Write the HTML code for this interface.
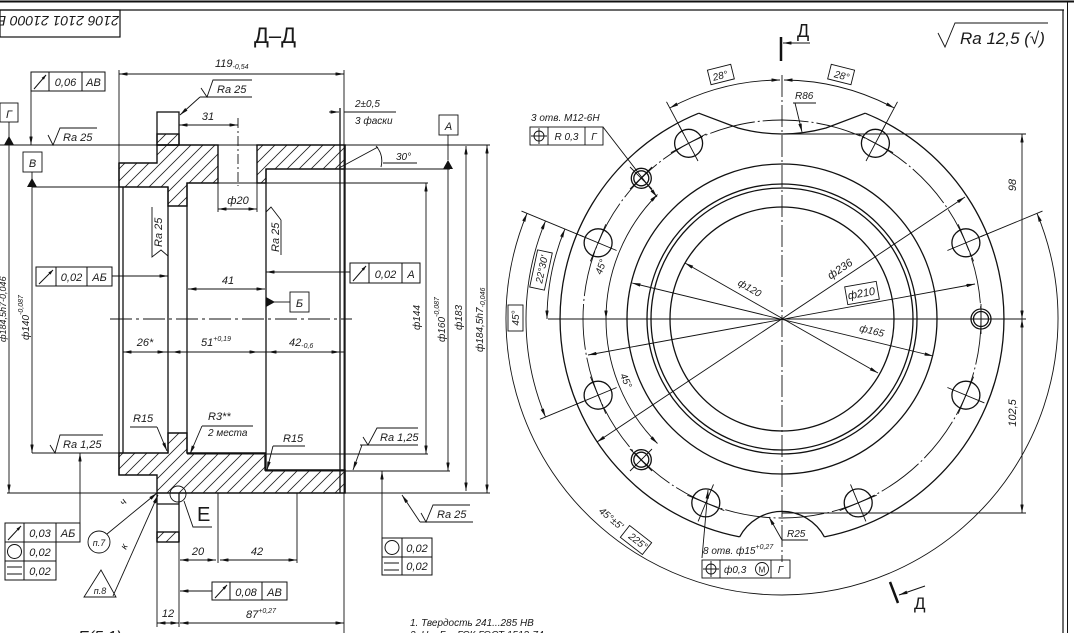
<!DOCTYPE html>
<html><head><meta charset="utf-8">
<style>
html,body{margin:0;padding:0;background:#fff;}
svg{display:block;}
text{font-family:"Liberation Sans","DejaVu Sans",sans-serif;font-style:italic;fill:#1a1a1a;}
</style></head><body>
<svg width="1074" height="633" viewBox="0 0 1074 633" xmlns="http://www.w3.org/2000/svg">
<defs>
<marker id="a" viewBox="0 0 10 4" refX="10" refY="2" markerWidth="9" markerHeight="3.4" markerUnits="userSpaceOnUse" orient="auto-start-reverse"><path d="M0,0L10,2L0,4Z" fill="#111"/></marker>
<marker id="s" viewBox="0 0 10 6" refX="10" refY="3" markerWidth="5" markerHeight="3" markerUnits="userSpaceOnUse" orient="auto"><path d="M0,0L10,3L0,6Z" fill="#111"/></marker>
<pattern id="h" width="12" height="12" patternUnits="userSpaceOnUse"><path d="M-3,3L3,-3M0,12L12,0M9,15L15,9" stroke="#222" stroke-width="0.8"/></pattern>
</defs>

<!-- FRAME -->
<g stroke="#111" fill="none">
<line x1="0" y1="1.5" x2="1074" y2="1.5" stroke-width="2"/>
<line x1="0" y1="10" x2="1064" y2="10" stroke-width="1.2"/>
<line x1="1063" y1="10" x2="1063" y2="633" stroke-width="1.2"/>
<line x1="1067.5" y1="2" x2="1067.5" y2="633" stroke-width="1"/>
<rect x="0" y="10" width="120" height="27" stroke-width="1.2"/>
</g>
<text transform="translate(58,16) rotate(180)" text-anchor="middle" font-size="14">2106 2101 21000 Б</text>
<text x="275" y="43" text-anchor="middle" font-size="22" style="font-style:normal" fill="#333">Д–Д</text>

<!-- ===== SECTION VIEW ===== -->
<g fill="url(#h)" stroke="#111" stroke-width="1.4">
<path d="M119,163 L157,163 L157,145 L218,145 L218,183 L187,183 L187,206 L168,206 L168,187 L119,187 Z"/>
<rect x="157" y="134" width="22" height="11"/>
<path d="M257,145 L345,145 L345,169 L266,169 L266,183 L257,183 Z"/>
<path d="M119,453 L168,453 L168,433 L187,433 L187,453 L265,453 L265,470 L345,470 L345,493 L157,493 L157,475 L119,475 Z"/>
<rect x="157" y="532" width="22" height="10"/>
</g>
<g stroke="#111" fill="none" stroke-width="1.3">
<rect x="157" y="112" width="22" height="33"/>
<line x1="157" y1="504" x2="179" y2="504"/>
<line x1="157" y1="493" x2="157" y2="542"/>
<line x1="179" y1="493" x2="179" y2="542"/>
<line x1="119" y1="163" x2="119" y2="475"/>
<line x1="123" y1="187" x2="123" y2="453"/>
<line x1="168" y1="187" x2="168" y2="453"/>
<line x1="187" y1="183" x2="187" y2="453"/>
<line x1="266" y1="169" x2="266" y2="470"/>
<line x1="340" y1="108" x2="340" y2="493"/>
<line x1="345" y1="145" x2="345" y2="493"/>
</g>
<g stroke="#111" fill="none" stroke-width="0.9">
<!-- extension lines -->
<line x1="119" y1="70" x2="119" y2="163"/>
<line x1="344" y1="70" x2="344" y2="633"/>
<line x1="0" y1="145" x2="490" y2="145"/>
<line x1="7" y1="493" x2="490" y2="493"/>
<line x1="32" y1="187" x2="168" y2="187"/>
<line x1="187" y1="183" x2="428" y2="183"/>
<line x1="266" y1="169" x2="450" y2="169"/>
<line x1="32" y1="453" x2="123" y2="453"/>
<line x1="187" y1="454" x2="428" y2="454"/>
<line x1="265" y1="471" x2="450" y2="471"/>
<line x1="218" y1="145" x2="218" y2="212"/>
<line x1="257" y1="145" x2="257" y2="212"/>
<line x1="218" y1="493" x2="218" y2="563"/>
<line x1="297" y1="493" x2="297" y2="563"/>
<line x1="157" y1="542" x2="157" y2="627"/>
<line x1="179" y1="542" x2="179" y2="627"/>
<line x1="238" y1="118" x2="238" y2="186" stroke-dasharray="10 3 2 3"/>
<line x1="110" y1="319" x2="352" y2="319" stroke-dasharray="22 4 3 4"/>
<!-- dims -->
<line x1="119" y1="74" x2="344" y2="74" marker-start="url(#a)" marker-end="url(#a)"/>
<line x1="179" y1="125" x2="238" y2="125" marker-start="url(#a)" marker-end="url(#a)"/>
<line x1="218" y1="209" x2="257" y2="209" marker-start="url(#a)" marker-end="url(#a)"/>
<line x1="188" y1="289" x2="265" y2="289" marker-start="url(#a)" marker-end="url(#a)"/>
<line x1="123" y1="352" x2="344" y2="352"/>
<line x1="123" y1="352" x2="166" y2="352" marker-start="url(#a)" marker-end="url(#a)"/>
<line x1="172" y1="352" x2="258" y2="352" marker-start="url(#a)" marker-end="url(#a)"/>
<line x1="268" y1="352" x2="340" y2="352" marker-start="url(#a)" marker-end="url(#a)"/>
<line x1="180" y1="560" x2="216" y2="560" marker-start="url(#a)" marker-end="url(#a)"/>
<line x1="220" y1="560" x2="297" y2="560" marker-start="url(#a)" marker-end="url(#a)"/>
<line x1="180" y1="623" x2="344" y2="623" marker-start="url(#a)" marker-end="url(#a)"/>
<line x1="157" y1="623" x2="179" y2="623" marker-start="url(#a)" marker-end="url(#a)"/>
<line x1="9" y1="145" x2="9" y2="493" marker-end="url(#a)"/>
<line x1="32" y1="187" x2="32" y2="453" marker-end="url(#a)"/>
<line x1="426" y1="183" x2="426" y2="454" marker-start="url(#a)" marker-end="url(#a)"/>
<line x1="448" y1="169" x2="448" y2="471" marker-end="url(#a)"/>
<line x1="466" y1="146" x2="466" y2="491" marker-start="url(#a)" marker-end="url(#a)"/>
<line x1="487" y1="145" x2="487" y2="493" marker-start="url(#a)" marker-end="url(#a)"/>
<!-- leaders -->
<line x1="31" y1="91" x2="31" y2="145" marker-end="url(#a)"/>
<line x1="112" y1="276" x2="168" y2="276" marker-end="url(#a)"/>
<line x1="350" y1="272" x2="266" y2="272" marker-end="url(#a)"/>
<line x1="80" y1="523" x2="80" y2="453" marker-end="url(#a)"/>
<line x1="382" y1="538" x2="382" y2="471" marker-end="url(#a)"/>
<line x1="212" y1="591" x2="180" y2="591" marker-end="url(#a)"/>
<line x1="200" y1="97" x2="180" y2="115" marker-end="url(#a)"/>
<line x1="200" y1="97" x2="252" y2="97"/>
<line x1="329" y1="112" x2="339" y2="112" marker-end="url(#a)"/>
<line x1="344" y1="112" x2="396" y2="112"/>
<line x1="339" y1="168" x2="378" y2="147"/>
<path d="M376,146 Q384,155 381,167"/>
<line x1="383" y1="163" x2="417" y2="163"/>
<!-- R leaders -->
<line x1="130" y1="427" x2="157" y2="427"/><line x1="157" y1="427" x2="167" y2="451" marker-end="url(#a)"/>
<line x1="202" y1="426" x2="253" y2="426"/><line x1="202" y1="426" x2="190" y2="454" marker-end="url(#a)"/>
<line x1="273" y1="446" x2="305" y2="446"/><line x1="273" y1="446" x2="267" y2="470" marker-end="url(#a)"/>
<!-- Ra symbols -->
<path d="M48,135 L53,145 L60,128 L97,128"/>
<path d="M201,88 L207,97 L213,80 L252,80"/>
<path d="M50,445 L55,453 L60,435 L103,435"/>
<line x1="360" y1="445" x2="418" y2="445"/><path d="M363,437 L368,445 L377,428 L418,428"/>
<line x1="362" y1="445" x2="353" y2="470" marker-end="url(#a)"/>
<line x1="420" y1="522" x2="402" y2="495" marker-end="url(#a)"/>
<line x1="420" y1="522" x2="473" y2="522"/><path d="M421,513 L426,522 L433,505 L470,505"/>
<path d="M152,207 L152,257 L161,250 L168,256"/>
<path d="M281,220 L281,255 M281,220 L271,207 L266,212"/>
<!-- E detail -->
<circle cx="178" cy="494" r="8"/>
<path d="M184,501 L193,527 L212,527"/>
<circle cx="99" cy="542" r="11"/>
<line x1="107" y1="534" x2="157" y2="493" marker-end="url(#a)"/>
<path d="M101,570 L84,597 L116,597 Z"/>
<line x1="113" y1="596" x2="158" y2="495" marker-end="url(#a)"/>
<!-- datum -->
<rect x="0" y="103" width="18" height="19"/><line x1="9" y1="122" x2="9" y2="138"/>
<rect x="23" y="152" width="19" height="20"/><line x1="32" y1="172" x2="32" y2="179"/>
<rect x="439" y="115" width="19" height="20"/><line x1="448" y1="135" x2="448" y2="160"/>
<rect x="290" y="292" width="19" height="20"/><line x1="290" y1="302" x2="274" y2="302"/>
</g>
<g fill="#111">
<path d="M4,145 L14,145 L9,136 Z"/>
<path d="M27,187 L37,187 L32,178 Z"/>
<path d="M443,169 L453,169 L448,160 Z"/>
<path d="M266,297 L266,307 L275,302 Z"/>
</g>

<!-- FCFs section -->
<g stroke="#111" fill="none" stroke-width="1">
<rect x="31" y="72" width="74" height="19"/><line x1="49" y1="72" x2="49" y2="91"/><line x1="82" y1="72" x2="82" y2="91"/>
<line x1="34" y1="89" x2="46" y2="75" marker-end="url(#s)"/>
<rect x="36" y="267" width="76" height="19"/><line x1="56" y1="267" x2="56" y2="286"/><line x1="87" y1="267" x2="87" y2="286"/>
<line x1="39" y1="284" x2="53" y2="270" marker-end="url(#s)"/>
<rect x="350" y="263" width="70" height="20"/><line x1="369" y1="263" x2="369" y2="283"/><line x1="402" y1="263" x2="402" y2="283"/>
<line x1="353" y1="281" x2="366" y2="266" marker-end="url(#s)"/>
<rect x="5" y="523" width="75" height="19"/><line x1="24" y1="523" x2="24" y2="542"/><line x1="56" y1="523" x2="56" y2="542"/>
<line x1="8" y1="540" x2="21" y2="526" marker-end="url(#s)"/>
<rect x="5" y="542" width="51" height="19"/><line x1="24" y1="542" x2="24" y2="561"/>
<circle cx="14.5" cy="551.5" r="7"/>
<rect x="5" y="561" width="51" height="19"/><line x1="24" y1="561" x2="24" y2="580"/>
<line x1="7" y1="567" x2="22" y2="567"/><line x1="7" y1="574" x2="22" y2="574"/>
<rect x="382" y="538" width="50" height="19"/><line x1="402" y1="538" x2="402" y2="557"/>
<circle cx="392" cy="547.5" r="7"/>
<rect x="382" y="557" width="50" height="18"/><line x1="402" y1="557" x2="402" y2="575"/>
<line x1="384" y1="563" x2="399" y2="563"/><line x1="384" y1="570" x2="399" y2="570"/>
<rect x="212" y="582" width="75" height="18"/><line x1="230" y1="582" x2="230" y2="600"/><line x1="262" y1="582" x2="262" y2="600"/>
<line x1="215" y1="598" x2="227" y2="585" marker-end="url(#s)"/>
</g>

<!-- section texts -->
<g font-size="11">
<text x="215" y="67">119<tspan font-size="7" dy="2">-0,54</tspan></text>
<text x="65.5" y="86" text-anchor="middle">0,06</text><text x="93.5" y="86" text-anchor="middle">АВ</text>
<text x="9" y="118" text-anchor="middle">Г</text>
<text x="32.5" y="167" text-anchor="middle">В</text>
<text x="448.5" y="130" text-anchor="middle">А</text>
<text x="299.5" y="307" text-anchor="middle">Б</text>
<text x="63" y="141">Ra 25</text>
<text x="217" y="93">Ra 25</text>
<text x="208" y="120" text-anchor="middle">31</text>
<text x="238" y="204" text-anchor="middle">ф20</text>
<text x="228" y="284" text-anchor="middle">41</text>
<text x="355" y="107" font-size="10">2±0,5</text>
<text x="355" y="124" font-size="10">3 фаски</text>
<text x="396" y="160" font-size="10">30°</text>
<text x="71.5" y="281" text-anchor="middle">0,02</text><text x="99.5" y="281" text-anchor="middle">АБ</text>
<text x="385.5" y="278" text-anchor="middle">0,02</text><text x="411" y="278" text-anchor="middle">А</text>
<text x="145" y="346" text-anchor="middle">26*</text>
<text x="201" y="346">51<tspan font-size="7" dy="-5">+0,19</tspan></text>
<text x="289" y="346">42<tspan font-size="7" dy="2">-0,6</tspan></text>
<text x="133" y="422">R15</text>
<text x="208" y="420">R3**</text>
<text x="208" y="436" font-size="10">2 места</text>
<text x="283" y="442">R15</text>
<text x="63" y="448">Ra 1,25</text>
<text x="380" y="441">Ra 1,25</text>
<text x="437" y="518">Ra 25</text>
<text x="197" y="521" font-size="20" style="font-style:normal" fill="#444">E</text>
<text x="99" y="546" text-anchor="middle" font-size="9">п.7</text>
<text x="100" y="594" text-anchor="middle" font-size="9">п.8</text>
<text transform="translate(124,506) rotate(-50)" font-size="10">ч</text>
<text transform="translate(126,550) rotate(-65)" font-size="10">к</text>
<text x="40" y="537" text-anchor="middle">0,03</text><text x="68" y="537" text-anchor="middle">АБ</text>
<text x="40" y="556" text-anchor="middle">0,02</text>
<text x="40" y="575" text-anchor="middle">0,02</text>
<text x="417" y="552" text-anchor="middle">0,02</text>
<text x="417" y="570" text-anchor="middle">0,02</text>
<text x="198" y="555" text-anchor="middle">20</text>
<text x="257" y="555" text-anchor="middle">42</text>
<text x="246" y="596" text-anchor="middle">0,08</text><text x="274.5" y="596" text-anchor="middle">АВ</text>
<text x="168" y="617" text-anchor="middle">12</text>
<text x="246" y="618">87<tspan font-size="7" dy="-5">+0,27</tspan></text>
<text x="78" y="642" font-size="16">Е(5:1)</text>
<text x="410" y="626" font-size="10">1. Твердость 241...285 НВ</text>
<text x="410" y="638" font-size="10">2. Н...           Б...       ГСК ГОСТ 1513-74</text>
<text transform="translate(162,247) rotate(-90)">Ra 25</text>
<text transform="translate(279,252) rotate(-90)">Ra 25</text>
<text transform="translate(6,342) rotate(-90)" font-size="9">ф184,5h7-0,046</text>
<text transform="translate(29,340) rotate(-90)" font-size="10">ф140<tspan font-size="7" dy="-6">-0,087</tspan></text>
<text transform="translate(420,330) rotate(-90)" font-size="10">ф144</text>
<text transform="translate(445,342) rotate(-90)" font-size="10">ф160<tspan font-size="7" dy="-6">-0,087</tspan></text>
<text transform="translate(462,330) rotate(-90)" font-size="10">ф183</text>
<text transform="translate(483,352) rotate(-90)" font-size="10">ф184,5h7<tspan font-size="7" dy="2">-0,046</tspan></text>
</g>

<!-- ===== CIRCLE VIEW ===== -->
<g stroke="#111" fill="none" stroke-width="1.3">
<path d="M865.2,113.2 A222,222 0 0 1 824.4,536.9"/>
<path d="M698.8,113.2 A222,222 0 0 0 739.6,536.9"/>
<path d="M698.8,113.2 L738,128 Q782,140 826,128 L865.2,113.2"/>
<path d="M739.6,536.9 A48,48 0 0 1 824.4,536.9"/>
<circle cx="782" cy="319" r="112"/>
<circle cx="782" cy="319" r="131"/>
<circle cx="782" cy="319" r="135"/>
<circle cx="782" cy="319" r="155"/>
<!-- holes -->
<circle cx="965.9" cy="242.8" r="14"/>
<circle cx="875.4" cy="143.3" r="14"/>
<circle cx="688.6" cy="143.3" r="14"/>
<circle cx="598.1" cy="242.8" r="14"/>
<circle cx="598.1" cy="395.2" r="14"/>
<circle cx="705.8" cy="502.9" r="14"/>
<circle cx="858.2" cy="502.9" r="14"/>
<circle cx="965.9" cy="395.2" r="14"/>
<circle cx="981" cy="319" r="10"/><circle cx="981" cy="319" r="7.5"/>
<circle cx="641.3" cy="178.3" r="10"/><circle cx="641.3" cy="178.3" r="7.5"/>
<circle cx="641.3" cy="459.7" r="10"/><circle cx="641.3" cy="459.7" r="7.5"/>
</g>
<g stroke="#111" fill="none" stroke-width="0.9">
<circle cx="782" cy="319" r="199" stroke-dasharray="46 3 2 3"/>
<!-- hole crosses -->
<path d="M947.4,250.5L984.4,235.1M958.2,224.3L973.6,261.3"/>
<path d="M866,161L884.8,125.6M857.7,133.9L893.1,152.7"/>
<path d="M698,161L679.2,125.6M670.9,152.7L706.3,133.9"/>
<path d="M616.6,250.5L579.6,235.1M590.4,261.3L605.8,224.3"/>
<path d="M616.6,387.5L579.6,402.9M605.8,413.7L590.4,376.7"/>
<path d="M713.5,484.4L698.1,521.4M724.3,510.6L687.3,495.2"/>
<path d="M850.5,484.4L865.9,521.4M876.7,495.2L839.7,510.6"/>
<path d="M947.4,387.5L984.4,402.9M973.6,376.7L958.2,413.7"/>
<path d="M966,319L996,319M981,304L981,334"/>
<path d="M630,167L652,189M630,189L652,167"/>
<path d="M630,471L652,449M630,449L652,471"/>
<!-- centerlines -->
<line x1="782" y1="75" x2="782" y2="562" stroke-dasharray="22 3 2 3"/>
<line x1="548" y1="319" x2="1026" y2="319"/>
<!-- extension lines -->
<line x1="880.6" y1="133.6" x2="897.5" y2="101.8"/>
<line x1="683.4" y1="133.6" x2="666.5" y2="101.8"/>
<line x1="980.6" y1="236.7" x2="1042.5" y2="211.1"/>
<line x1="583.4" y1="236.7" x2="521.5" y2="211.1"/>
<line x1="583.4" y1="401.3" x2="539.9" y2="419.3"/>
<line x1="790" y1="134" x2="1026" y2="134"/>
<line x1="782" y1="513" x2="1026" y2="513"/>
<!-- dimension arcs -->
<path d="M669.8,108 A239,239 0 0 1 780,80" marker-start="url(#a)" marker-end="url(#a)"/>
<path d="M784,80 A239,239 0 0 1 894.2,108" marker-start="url(#a)" marker-end="url(#a)"/>
<path d="M1037,213.4 A276,276 0 1 1 527,213.4" marker-start="url(#a)" marker-end="url(#a)"/>
<path d="M545.5,221 A256,256 0 0 0 545.5,417" marker-start="url(#a)" marker-end="url(#a)"/>
<path d="M564.9,229.1 A235,235 0 0 0 547,319" marker-start="url(#a)" marker-end="url(#a)"/>
<path d="M657.5,194.5 A176,176 0 0 0 606,319" marker-start="url(#a)" marker-end="url(#a)"/>
<path d="M606,319 A176,176 0 0 0 657.5,443.5" marker-end="url(#a)"/>
<!-- diameter lines -->
<line x1="597" y1="442" x2="965" y2="197" marker-start="url(#a)" marker-end="url(#a)"/>
<line x1="588" y1="355" x2="975" y2="284" marker-start="url(#a)" marker-end="url(#a)"/>
<line x1="632" y1="283" x2="933" y2="356" marker-start="url(#a)" marker-end="url(#a)"/>
<line x1="685" y1="263" x2="878" y2="373" marker-start="url(#a)" marker-end="url(#a)"/>
<!-- linear dims -->
<line x1="1022" y1="134" x2="1022" y2="319" marker-start="url(#a)" marker-end="url(#a)"/>
<line x1="1022" y1="319" x2="1022" y2="513" marker-start="url(#a)" marker-end="url(#a)"/>
<!-- leaders -->
<line x1="603" y1="127" x2="657" y2="197" marker-end="url(#a)"/>
<line x1="702" y1="558" x2="708" y2="490" marker-end="url(#a)"/>
<line x1="782" y1="540" x2="808" y2="540"/><line x1="782" y1="540" x2="769" y2="517" marker-end="url(#a)"/>
<line x1="793" y1="103" x2="816" y2="103"/><line x1="795" y1="103" x2="802" y2="132" marker-end="url(#a)"/>
<path d="M938,33 L945,47 L955,23 L1048,23"/>
<!-- FCFs -->
<rect x="530" y="127" width="73" height="18"/><line x1="548" y1="127" x2="548" y2="145"/><line x1="585" y1="127" x2="585" y2="145"/>
<circle cx="539" cy="136" r="5"/><path d="M531,136L547,136M539,128L539,144"/>
<rect x="702" y="560" width="88" height="18"/><line x1="720" y1="560" x2="720" y2="578"/><line x1="771" y1="560" x2="771" y2="578"/>
<circle cx="711" cy="569" r="5"/><path d="M703,569L719,569M711,561L711,577"/>
<circle cx="762" cy="569" r="6.5"/>
<!-- label boxes -->
<rect x="-12" y="-8" width="24" height="15" transform="translate(721,75) rotate(-14)"/>
<rect x="-12" y="-8" width="24" height="15" transform="translate(841,75) rotate(14)"/>
<rect x="-16" y="-9" width="32" height="18" transform="translate(862,293) rotate(-10)"/>
<rect x="-13" y="-7.5" width="26" height="15" transform="translate(515.5,318) rotate(-90)"/>
<rect x="-19" y="-7.5" width="38" height="15" transform="translate(541,270) rotate(-78)"/>
<rect x="-14" y="-7.5" width="28" height="15" transform="translate(636,540) rotate(38)"/>
</g>
<!-- section arrows -->
<g stroke="#111" fill="none">
<line x1="781" y1="37" x2="781" y2="61" stroke-width="2.5"/>
<line x1="810" y1="43" x2="783" y2="43" stroke-width="1" marker-end="url(#a)"/>
<line x1="890" y1="582" x2="898" y2="603" stroke-width="2.5"/>
<line x1="925" y1="586" x2="899" y2="595" stroke-width="1" marker-end="url(#a)"/>
</g>
<g font-size="11">
<text x="797" y="37" font-size="18" style="font-style:normal">Д</text>
<text x="914" y="609" font-size="17" style="font-style:normal">Д</text>
<text x="960" y="44" font-size="17" fill="#555">Ra 12,5 (√)</text>
<text transform="translate(721,79) rotate(-14)" text-anchor="middle" font-size="10">28°</text>
<text transform="translate(841,79) rotate(14)" text-anchor="middle" font-size="10">28°</text>
<text x="795" y="99" font-size="10">R86</text>
<text x="531" y="121" font-size="10">3 отв. М12-6Н</text>
<text x="566.5" y="140" text-anchor="middle" font-size="10">R 0,3</text>
<text x="594" y="140" text-anchor="middle" font-size="10">Г</text>
<text transform="translate(1016,185) rotate(-90)" text-anchor="middle">98</text>
<text transform="translate(1016,413) rotate(-90)" text-anchor="middle">102,5</text>
<text transform="translate(842,272) rotate(-33.7)" text-anchor="middle">ф236</text>
<text transform="translate(862,297) rotate(-10)" text-anchor="middle">ф210</text>
<text transform="translate(871,334) rotate(13.8)" text-anchor="middle" font-size="10">ф165</text>
<text transform="translate(748,291) rotate(30)" text-anchor="middle" font-size="10">ф120</text>
<text transform="translate(519,318) rotate(-90)" text-anchor="middle" font-size="10">45°</text>
<text transform="translate(545,270) rotate(-78)" text-anchor="middle" font-size="10">22°30'</text>
<text transform="translate(604,268) rotate(-70)" text-anchor="middle" font-size="10">45°</text>
<text transform="translate(623,382) rotate(66)" text-anchor="middle" font-size="10">45°</text>
<text transform="translate(609,521) rotate(40)" text-anchor="middle" font-size="10">45°±5'</text>
<text transform="translate(636,544) rotate(38)" text-anchor="middle" font-size="10">225°</text>
<text x="703" y="554" font-size="10">8 отв. ф15<tspan font-size="7" dy="-5">+0,27</tspan></text>
<text x="724" y="573" font-size="10">ф0,3</text>
<text x="762" y="572.5" text-anchor="middle" font-size="8" style="font-style:normal">M</text>
<text x="780.5" y="573" text-anchor="middle" font-size="10">Г</text>
<text x="787" y="537" font-size="10">R25</text>
</g>
</svg>
</body></html>
